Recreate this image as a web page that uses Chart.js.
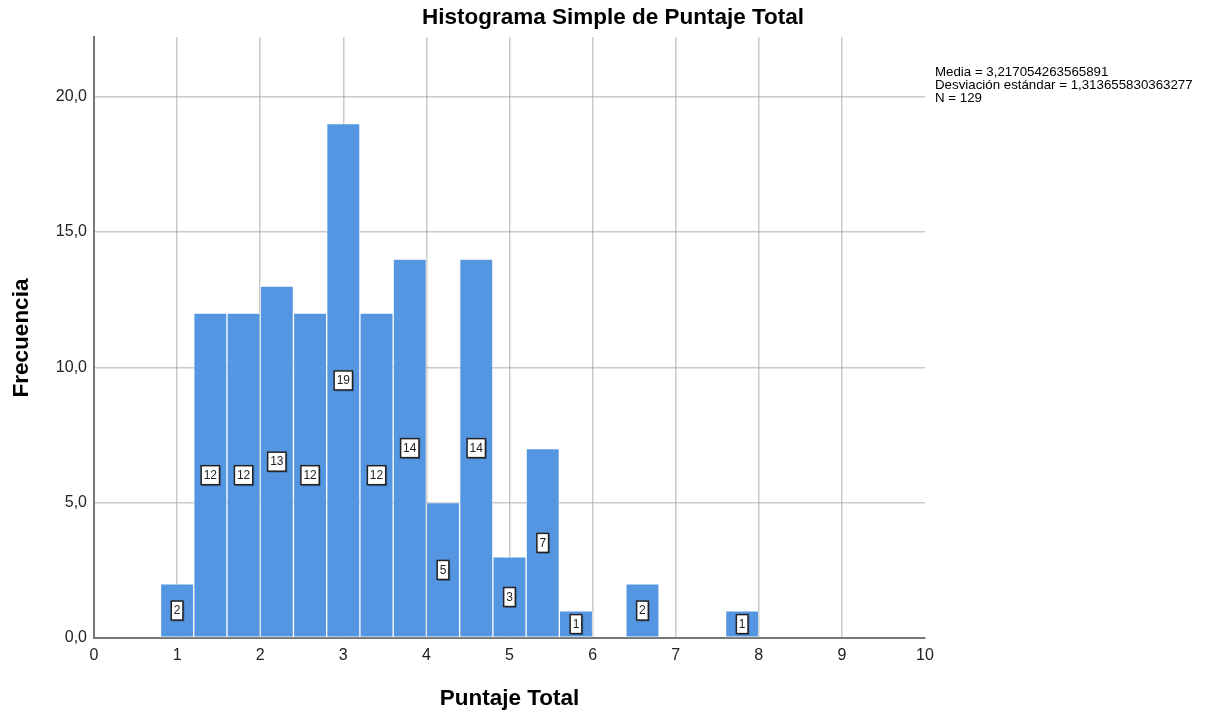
<!DOCTYPE html>
<html>
<head>
<meta charset="utf-8">
<script src="https://cdn.jsdelivr.net/npm/chart.js@4.4.1/dist/chart.umd.min.js"></script>
<style>
  html, body { margin: 0; padding: 0; background: #fff; }
  #wrap { width: 1221px; height: 717px; }
</style>
</head>
<body>
<div id="wrap"><canvas id="histo"></canvas></div>
<script>
// --- data (bins of width 0.4) ---
const binCenters = [1.0, 1.4, 1.8, 2.2, 2.6, 3.0, 3.4, 3.8, 4.2, 4.6, 5.0, 5.4, 5.8, 6.2, 6.6, 7.0, 7.4, 7.8];
const binCounts  = [2, 12, 12, 13, 12, 19, 12, 14, 5, 14, 3, 7, 1, 0, 2, 0, 0, 1];
const yTicks = [0, 5, 10, 15, 20];
const xTicks = [0, 1, 2, 3, 4, 5, 6, 7, 8, 9, 10];
const statsLines = [
    'Media = 3,217054263565891',
    'Desviación estándar = 1,313655830363277',
    'N = 129'
];
const chartTitle = 'Histograma Simple de Puntaje Total';
const xTitle = 'Puntaje Total';
const yTitle = 'Frecuencia';

const FONT = '"Liberation Sans", Arial, sans-serif';

// titles + the stats text on the right
const textPlugin = {
    id: 'texts',
    afterDraw(chart) {
        const ctx = chart.ctx;
        const area = chart.chartArea;
        ctx.save();
        ctx.fillStyle = '#000';
        ctx.textAlign = 'center';
        ctx.textBaseline = 'middle';
        ctx.font = 'bold 22.5px ' + FONT;
        ctx.fillText(chartTitle, 613, 18);
        ctx.fillText(xTitle, (area.left + area.right) / 2, 699);
        ctx.translate(22, 338);
        ctx.rotate(-Math.PI / 2);
        ctx.fillText(yTitle, 0, 0);
        ctx.restore();

        ctx.save();
        ctx.fillStyle = '#000';
        ctx.font = '13.3px ' + FONT;
        ctx.textAlign = 'left';
        ctx.textBaseline = 'middle';
        statsLines.forEach((s, i) => ctx.fillText(s, 935, 72.5 + i * 13));
        ctx.restore();
    }
};

// count boxes in the middle of every bar
const countBoxes = {
    id: 'countBoxes',
    afterDraw(chart) {
        const ctx = chart.ctx;
        const meta = chart.getDatasetMeta(0);
        ctx.save();
        ctx.font = '12px ' + FONT;
        ctx.textAlign = 'center';
        ctx.textBaseline = 'middle';
        meta.data.forEach((bar, i) => {
            const v = binCounts[i];
            if (!v) return;
            const txt = String(v);
            const w = ctx.measureText(txt).width + 5;
            const h = 19;
            const cx = bar.x, cy = (bar.y + bar.base) / 2;
            ctx.fillStyle = 'rgba(0,0,0,0.25)';
            ctx.fillRect(cx - w / 2 + 1.5, cy - h / 2 + 1.5, w, h);
            ctx.fillStyle = '#fff';
            ctx.fillRect(cx - w / 2, cy - h / 2, w, h);
            ctx.strokeStyle = '#222';
            ctx.lineWidth = 1.5;
            ctx.strokeRect(cx - w / 2, cy - h / 2, w, h);
            ctx.fillStyle = '#222';
            ctx.fillText(txt, cx, cy + 0.5);
        });
        ctx.restore();
    }
};

new Chart(document.getElementById('histo').getContext('2d'), {
    type: 'bar',
    data: {
        datasets: [{
            label: 'Frecuencia',
            data: binCenters.map((x, i) => ({ x: x, y: binCounts[i] })),
            backgroundColor: '#5596e3',
            borderColor: 'rgba(255,255,255,0.4)',
            borderWidth: 1,
            borderSkipped: false,
            barPercentage: 1,
            categoryPercentage: 1
        }]
    },
    options: {
        responsive: true,
        maintainAspectRatio: false,
        animation: false,
        layout: { padding: { left: 0, top: 37, right: 296, bottom: 0 } },
        plugins: {
            legend: { display: false },
            title: { display: false },
            tooltip: { enabled: false }
        },
        scales: {
            x: {
                type: 'linear',
                min: 0,
                max: 10,
                offset: false,
                z: 1,
                afterFit(scale) { scale.height = 79; },
                afterBuildTicks(scale) { scale.ticks = xTicks.map(v => ({ value: v })); },
                ticks: {
                    color: '#222',
                    font: { family: FONT, size: 16 },
                    padding: 8,
                    maxRotation: 0,
                    autoSkip: false
                },
                grid: {
                    offset: false,
                    drawTicks: false,
                    lineWidth: 1.5,
                    color: ctx => (ctx.tick && (ctx.tick.value === 0 || ctx.tick.value === 10)) ? 'rgba(0,0,0,0)' : 'rgba(150,150,150,0.5)'
                },
                border: { display: true, color: '#777', width: 2 }
            },
            y: {
                min: 0,
                max: 22.2,
                z: 1,
                afterFit(scale) { scale.width = 94; },
                afterBuildTicks(scale) { scale.ticks = yTicks.map(v => ({ value: v })); },
                ticks: {
                    color: '#222',
                    font: { family: FONT, size: 16 },
                    padding: 7,
                    callback: v => v.toFixed(1).replace('.', ',')
                },
                grid: {
                    drawTicks: false,
                    lineWidth: 1.5,
                    color: ctx => (ctx.tick && ctx.tick.value === 0) ? 'rgba(0,0,0,0)' : 'rgba(150,150,150,0.5)'
                },
                border: { display: true, color: '#777', width: 2 }
            }
        }
    },
    plugins: [textPlugin, countBoxes]
});
</script>
</body>
</html>
